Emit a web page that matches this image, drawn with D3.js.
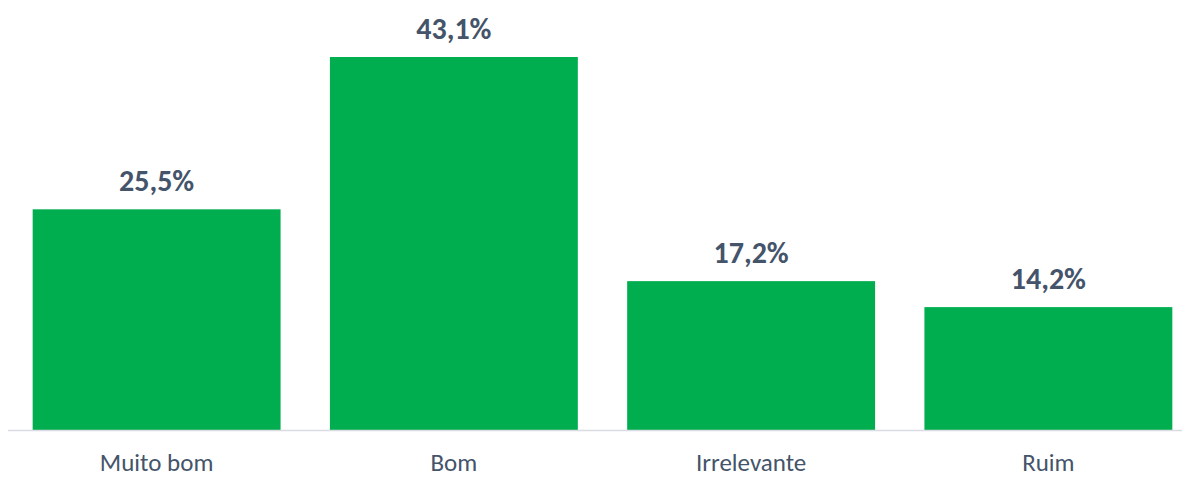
<!DOCTYPE html>
<html>
<head>
<meta charset="utf-8">
<script src="https://cdn.jsdelivr.net/npm/d3@7"></script>
<style>
  body { margin: 0; background: #fff; }
  svg { display: block; font-family: Carlito, Calibri, Lato, sans-serif; }
</style>
</head>
<body>
<div id="chart"></div>
<script>
// data
const categories = ["Muito bom", "Bom", "Irrelevante", "Ruim"];
const values = [25.5, 43.1, 17.2, 14.2];
const valueLabels = ["25,5%", "43,1%", "17,2%", "14,2%"];

// constants
const w = 1182;
const h = 477;
const baseY = 430;

const svg = d3.select("#chart").append("svg").attr("width", w).attr("height", h);

// scales
const xScale = d3.scaleBand().domain(categories).range([8, 1197]).paddingInner(0.166).paddingOuter(0.083);
const yScale = d3.scaleLinear().domain([0, 43.1]).range([baseY, 57]);

// bars
svg.selectAll("rect.bar")
    .data(values)
    .enter().append("rect")
    .attr("class", "bar")
    .attr("x", (d, i) => xScale(categories[i]))
    .attr("y", d => yScale(d))
    .attr("width", xScale.bandwidth())
    .attr("height", d => baseY - yScale(d))
    .attr("fill", "#00AE4F");

// baseline
svg.append("line")
    .attr("x1", 8).attr("x2", w)
    .attr("y1", baseY + 0.5).attr("y2", baseY + 0.5)
    .attr("stroke", "#D9DCE3")
    .attr("stroke-width", 1.5);

// value labels
svg.selectAll("text.value")
    .data(values)
    .enter().append("text")
    .attr("class", "value")
    .attr("x", (d, i) => xScale(categories[i]) + xScale.bandwidth() / 2)
    .attr("y", d => yScale(d) - 18)
    .attr("text-anchor", "middle")
    .attr("font-size", 30)
    .attr("font-weight", "bold")
    .attr("fill", "#44546A")
    .text((d, i) => valueLabels[i]);

// category labels
svg.selectAll("text.cat")
    .data(categories)
    .enter().append("text")
    .attr("class", "cat")
    .attr("x", d => xScale(d) + xScale.bandwidth() / 2)
    .attr("y", 471)
    .attr("text-anchor", "middle")
    .attr("font-size", 25)
    .attr("fill", "#44546A")
    .text(d => d);
</script>
</body>
</html>
